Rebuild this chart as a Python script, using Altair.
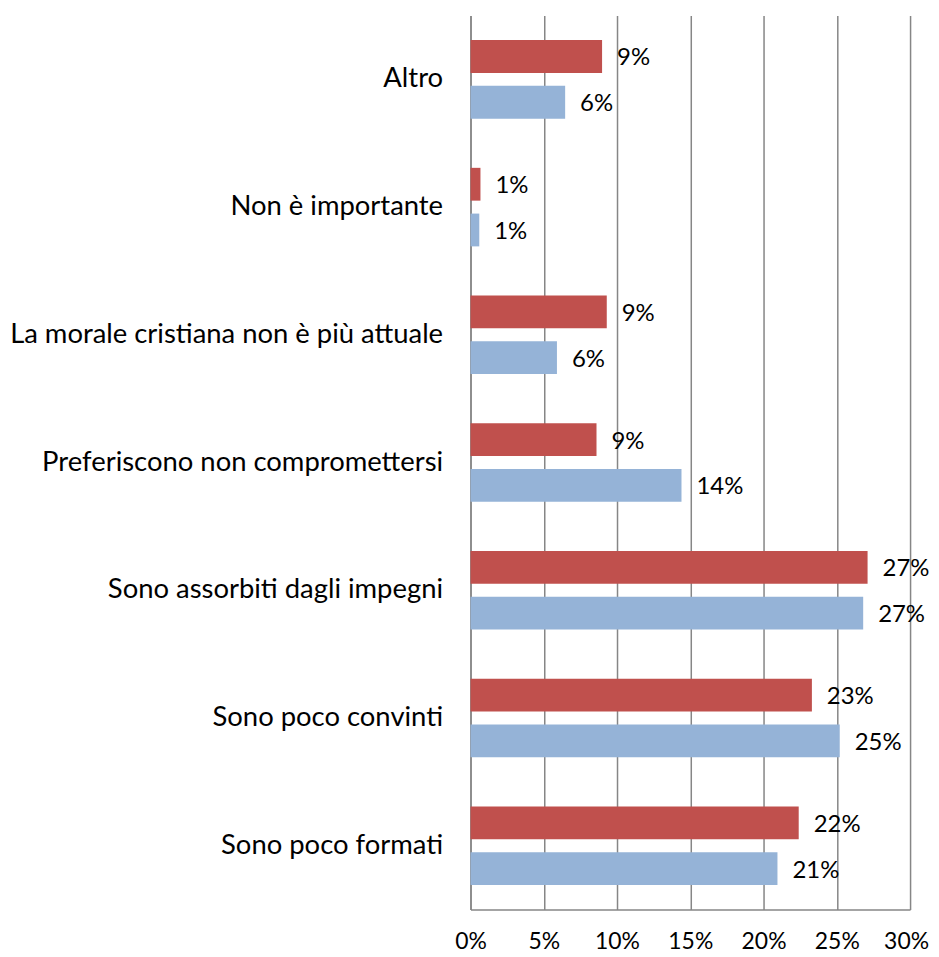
import altair as alt
import pandas as pd

categories = ["Altro", "Non è importante", "La morale cristiana non è più attuale",
              "Preferiscono non compromettersi", "Sono assorbiti dagli impegni",
              "Sono poco convinti", "Sono poco formati"]
series_names = ["Serie 1", "Serie 2"]
serie1 = [0.0898, 0.0068, 0.093, 0.086, 0.271, 0.233, 0.224]
serie2 = [0.0646, 0.0060, 0.059, 0.144, 0.268, 0.252, 0.2095]
colors = ["#C0504D", "#95B3D7"]

rows = []
for i, c in enumerate(categories):
    rows.append({"cat": c, "serie": series_names[0], "v": serie1[i]})
    rows.append({"cat": c, "serie": series_names[1], "v": serie2[i]})
df = pd.DataFrame(rows)

font = "Lato"
fs = 27.5
y_enc = alt.Y("cat:N", sort=categories,
              scale=alt.Scale(paddingInner=0.385, paddingOuter=0.1925),
              axis=alt.Axis(title=None, labelFontSize=fs, labelFont=font, labelColor="#000",
                            ticks=False, domain=True, domainColor="#868686", domainWidth=1.5,
                            labelPadding=28, labelLimit=600))
yoff = alt.YOffset("serie:N", sort=series_names, scale=alt.Scale(paddingInner=0.283, paddingOuter=0))
x_enc = alt.X("v:Q", scale=alt.Scale(domain=[0, 0.30]),
              axis=alt.Axis(title=None, format=".0%", values=[0, .05, .1, .15, .2, .25, .3],
                            labelFontSize=23, labelFont=font, labelColor="#000",
                            labelFlush=False, labelAlign="center", labelOverlap=False,
                            labelBaseline="middle",
                            labelOffset={"condition": {"test": "datum.value >= 0.29", "value": -4}, "value": 0},
                            ticks=False, domain=True, domainColor="#868686", domainWidth=1.5,
                            grid=True, gridColor="#868686", gridWidth=1.5, labelPadding=32))

base = alt.Chart(df)
bars = base.mark_bar().encode(
    y=y_enc, yOffset=yoff, x=x_enc,
    color=alt.Color("serie:N", scale=alt.Scale(domain=series_names, range=colors), legend=None),
)
labels = base.mark_text(align="left", baseline="middle", dx=15, dy=2, fontSize=24, font=font, color="#000").encode(
    y=alt.Y("cat:N", sort=categories), yOffset=alt.YOffset("serie:N", sort=series_names),
    x="v:Q", text=alt.Text("v:Q", format=".0%"),
)

chart = alt.layer(bars, labels).properties(
    width=441, height=897,
    autosize=alt.AutoSizeParams(type="none"),
    padding={"left": 464, "top": 6, "right": 21, "bottom": 46},
).configure_view(stroke=None)

chart.save("out.html", embed_options={"renderer": "svg", "actions": False})
